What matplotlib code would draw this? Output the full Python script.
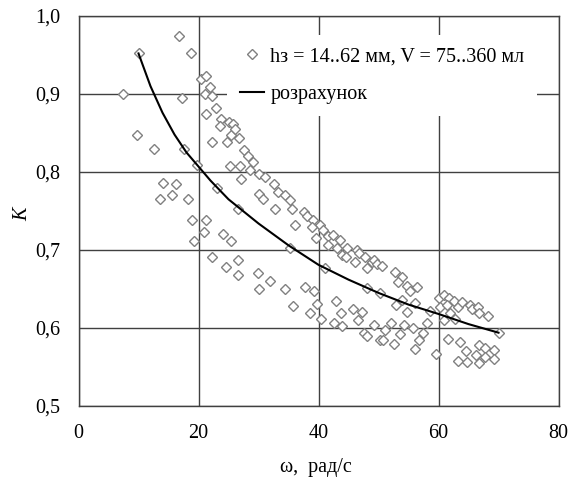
import matplotlib
matplotlib.use("Agg")
import matplotlib.pyplot as plt
from matplotlib.ticker import FuncFormatter

# Experimental points (omega, K)
omega_exp = [16.8, 18.7, 10.0, 20.4, 21.2, 21.9, 7.45, 17.3, 21.1, 22.3, 22.9, 21.3, 23.8, 23.5,
             25.1, 25.7, 25.4, 26.1, 9.8, 12.5, 17.6, 22.2, 24.8, 26.7, 27.5,
             19.7, 25.3, 26.9, 27.1, 14.1, 16.2, 13.5, 15.5, 18.2, 23.0, 26.5, 18.9, 21.3, 20.9,
             24.0, 25.4, 19.2, 22.2, 26.6, 24.6, 26.5,
             28.2, 29.0, 28.6, 30.0, 31.1, 32.6, 33.2, 34.4, 30.0, 30.8, 35.3, 35.6, 32.8, 37.6,
             38.1, 39.1, 40.3, 36.0, 38.9, 40.8, 39.5, 41.6, 42.4, 43.6, 41.6, 43.1, 44.8, 46.4,
             43.9, 35.2,
             29.9, 31.9, 30.1, 34.4, 37.8, 39.2, 35.7, 39.7, 38.5, 40.4, 42.9, 43.8, 42.5, 43.9,
             45.8, 47.2, 46.5, 49.2, 47.5, 48.0, 50.3, 41.1, 48.1, 44.5, 46.1, 46.7, 48.1, 48.9, 47.8,
             49.2, 49.8, 50.6, 52.8, 53.9, 53.2, 54.7, 56.4, 55.2, 50.3, 53.9, 52.9, 56.1, 54.8,
             58.6, 60.0, 60.9, 61.8, 62.5, 60.2, 61.4, 63.2, 63.9, 65.2, 65.6, 66.5, 66.8, 68.2,
             61.9, 60.9, 62.8, 70.0, 52.1, 51.1, 54.2, 53.5, 50.8, 52.6, 55.7, 58.0, 57.4, 56.7,
             56.0, 59.5, 61.5, 63.5, 64.6, 63.3, 64.7, 66.7, 67.8, 66.3, 67.8, 69.3, 69.2, 66.8]
K_exp = [0.975, 0.952, 0.952, 0.919, 0.923, 0.909, 0.900, 0.895, 0.900, 0.897, 0.882, 0.874, 0.868, 0.859,
         0.864, 0.861, 0.847, 0.855, 0.848, 0.830, 0.830, 0.838, 0.838, 0.843, 0.828,
         0.809, 0.808, 0.808, 0.791, 0.786, 0.785, 0.766, 0.770, 0.765, 0.779, 0.752, 0.738, 0.739, 0.723,
         0.721, 0.712, 0.712, 0.691, 0.687, 0.678, 0.668,
         0.820, 0.813, 0.803, 0.798, 0.793, 0.785, 0.775, 0.771, 0.772, 0.766, 0.764, 0.753, 0.752, 0.749,
         0.743, 0.738, 0.732, 0.732, 0.729, 0.726, 0.715, 0.718, 0.719, 0.713, 0.706, 0.702, 0.702, 0.700,
         0.694, 0.703,
         0.670, 0.660, 0.650, 0.650, 0.653, 0.648, 0.628, 0.631, 0.619, 0.612, 0.635, 0.619, 0.607, 0.602,
         0.625, 0.621, 0.610, 0.604, 0.593, 0.590, 0.585, 0.677, 0.651, 0.691, 0.685, 0.696, 0.677, 0.685, 0.691,
         0.687, 0.682, 0.679, 0.672, 0.665, 0.659, 0.654, 0.652, 0.647, 0.645, 0.636, 0.629, 0.632, 0.621,
         0.622, 0.639, 0.642, 0.638, 0.635, 0.627, 0.630, 0.627, 0.633, 0.630, 0.624, 0.627, 0.619, 0.616,
         0.619, 0.610, 0.612, 0.593, 0.607, 0.597, 0.604, 0.592, 0.585, 0.579, 0.600, 0.607, 0.594, 0.585,
         0.573, 0.567, 0.586, 0.582, 0.570, 0.558, 0.557, 0.578, 0.575, 0.566, 0.563, 0.572, 0.560, 0.555]

# Calculated curve
omega_calc = [10, 12, 14, 16, 18, 20, 22, 25, 30, 35, 40, 45, 50, 55, 60, 65, 70]
K_calc = [0.952, 0.910, 0.876, 0.848, 0.825, 0.807, 0.789, 0.765, 0.734, 0.706, 0.681,
          0.662, 0.645, 0.630, 0.618, 0.605, 0.594]

label_exp = "hз = 14..62 мм, V = 75..360 мл"
label_calc = "розрахунок"
xlabel = "ω,  рад/с"
ylabel = "K"

plt.rcParams['font.family'] = ['Liberation Serif', 'DejaVu Serif']
FS = 14.5

fig = plt.figure(figsize=(5.79, 4.82), dpi=100)
ax = fig.add_axes([78.5 / 579, 1 - 406 / 482, 480 / 579, 390 / 482])

ax.plot(omega_exp, K_exp, linestyle='none', marker='D', markersize=5.0,
        markerfacecolor='white', markeredgecolor='#808080', markeredgewidth=1.0,
        label=label_exp, zorder=3)
ax.plot(omega_calc, K_calc, color='black', linewidth=1.5, label=label_calc, zorder=4)

ax.set_xlim(0, 80)
ax.set_ylim(0.5, 1.0)
ax.set_xticks([0, 20, 40, 60, 80])
ax.set_yticks([0.5, 0.6, 0.7, 0.8, 0.9, 1.0])
ax.yaxis.set_major_formatter(FuncFormatter(lambda v, p: f"{v:.1f}".replace('.', ',')))
ax.tick_params(length=0, labelsize=FS)
ax.tick_params(axis='y', pad=13.3)
ax.tick_params(axis='x', pad=13)
ax.grid(True, color='#404040', linewidth=1.0)
ax.set_axisbelow(True)
for s in ax.spines.values():
    s.set_color('#404040')
    s.set_linewidth(1.0)

ax.set_xlabel(xlabel, fontsize=FS)
ax.set_ylabel(ylabel, fontsize=FS, style='italic', rotation=90)
ax.xaxis.set_label_coords(0.495, -0.1326)
ax.yaxis.set_label_coords(-0.097, 0.492)

leg = ax.legend(loc='upper left', bbox_to_anchor=(0.31, 0.952), fontsize=FS,
                frameon=True, fancybox=False, edgecolor='none', facecolor='white',
                framealpha=1.0, handlelength=1.2, handletextpad=0.3,
                labelspacing=0.9, borderpad=0.63, borderaxespad=0)
leg.set_zorder(5)

fig.savefig("out.png", dpi=100)
